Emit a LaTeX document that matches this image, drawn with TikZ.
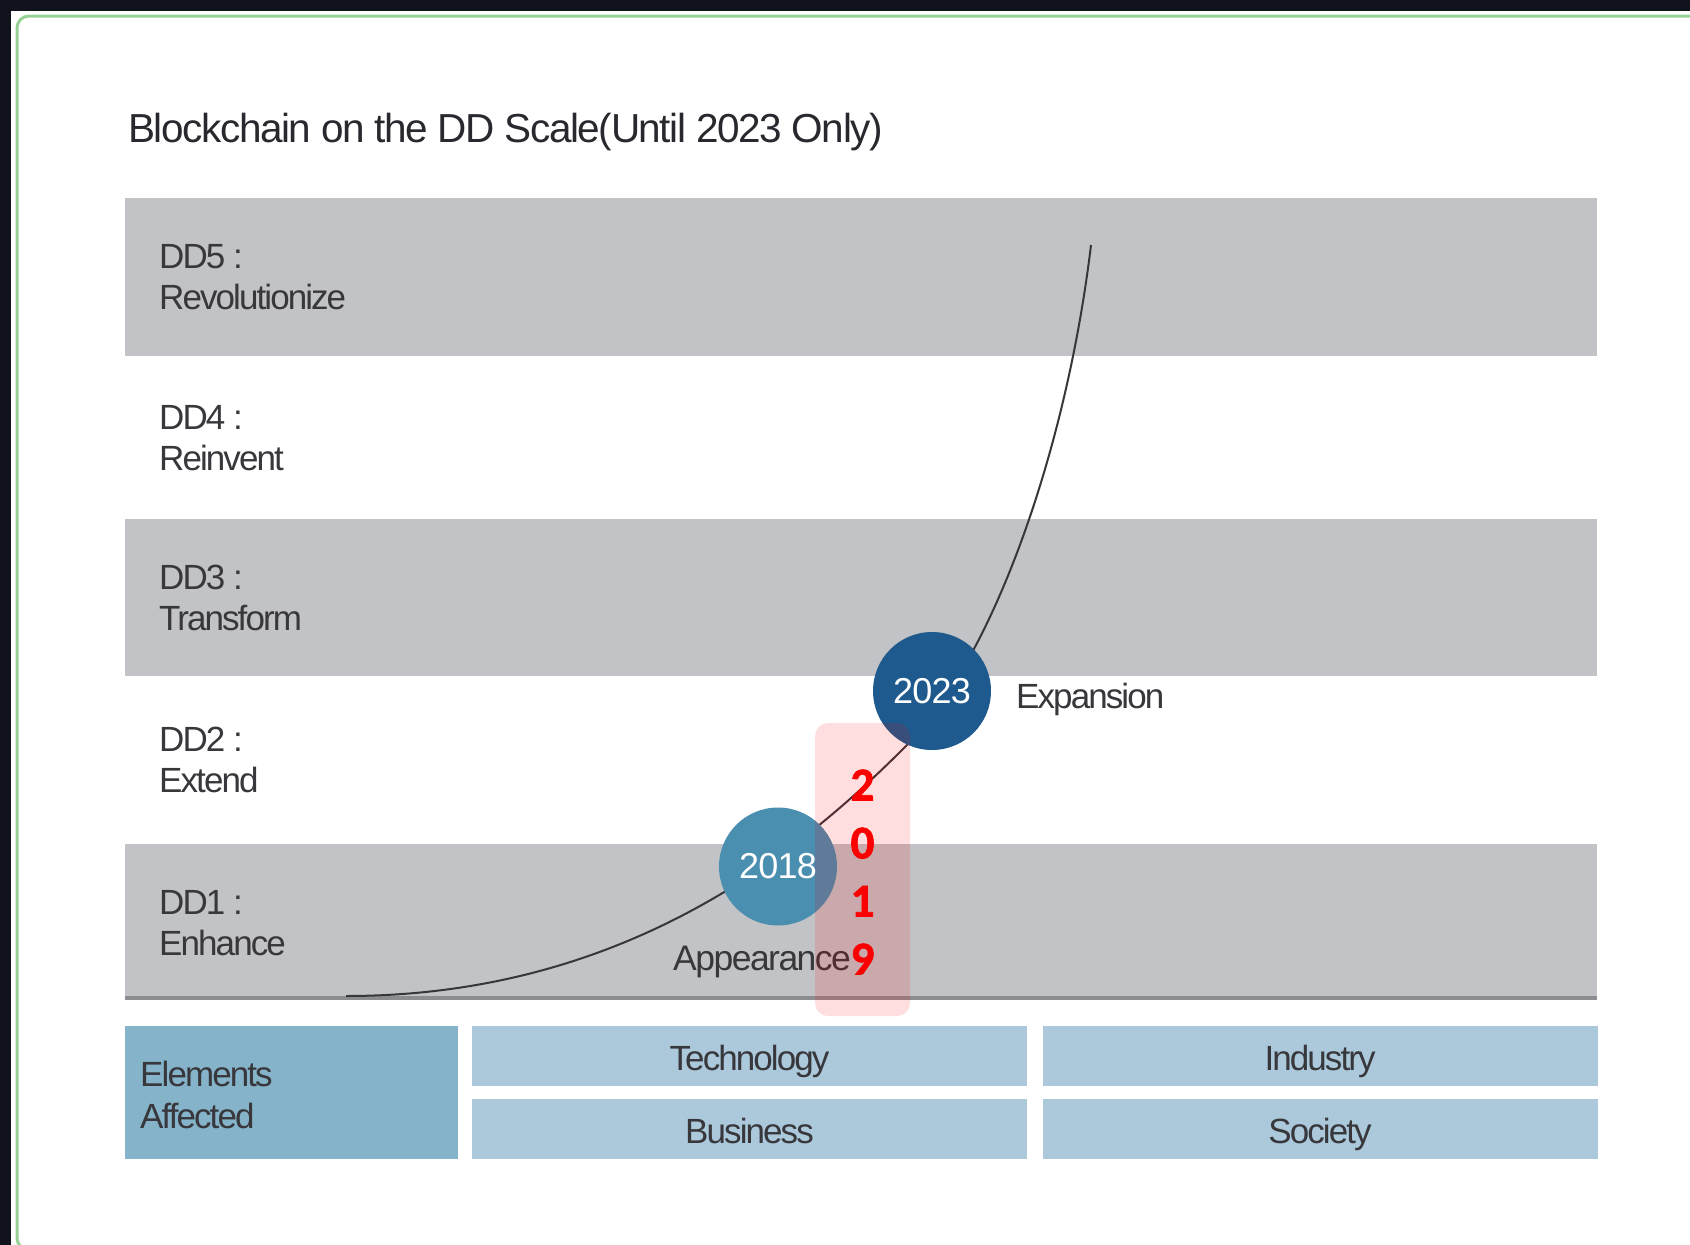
\documentclass[tikz,border=0pt]{standalone}
\usepackage{fontspec}
\setmainfont{Liberation Sans}
\newfontfamily\titlefont[LetterSpace=-3.5]{Liberation Sans}
\newfontfamily\lblfont[LetterSpace=-5.5]{Liberation Sans}
\newfontfamily\apfont[LetterSpace=-4.3]{Liberation Sans}
\newfontfamily\yrfont[LetterSpace=-2]{Liberation Sans}
\newfontfamily\redfont[BoldFeatures={FakeBold=1.6}]{Carlito}
\definecolor{bgdark}{RGB}{16,18,28}
\definecolor{cardgreen}{RGB}{150,210,150}
\definecolor{bandgrey}{RGB}{194,195,198}
\definecolor{bandline}{RGB}{140,141,145}
\definecolor{txtcol}{RGB}{55,55,60}
\definecolor{titlecol}{RGB}{40,40,46}
\definecolor{ctwo}{RGB}{74,142,176}
\definecolor{cthree}{RGB}{30,90,142}
\definecolor{elemdark}{RGB}{133,179,201}
\definecolor{elemlight}{RGB}{171,201,219}
\definecolor{curvecol}{RGB}{55,55,58}
\definecolor{hlred}{RGB}{250,0,0}
\tikzset{
  band/.style={fill=bandgrey},
  lbl/.style={inner sep=0, align=left, text=txtcol, font=\lblfont\fontsize{35}{41}\selectfont},
  yearcirc/.style={circle, minimum size=118, inner sep=0, text=white, font=\yrfont\fontsize{36}{40}\selectfont},
  cell/.style={fill=elemlight, minimum width=555, minimum height=60, inner sep=0, text height=28, text depth=0, text=txtcol, font=\lblfont\fontsize{35}{41}\selectfont},
  trend/.style={draw=curvecol, line width=2},
  highlight/.style={fill=hlred, fill opacity=0.13, rounded corners=13, minimum width=95, minimum height=293, inner sep=0},
  reddigits/.style={text=hlred, align=center, inner sep=0, font=\redfont\bfseries\fontsize{47}{58}\selectfont}
}
\begin{document}
\begin{tikzpicture}[x=1pt, y=-1pt]
\useasboundingbox (0,0) rectangle (1690,1245);
% background and card
\fill[bgdark] (0,0) rectangle (1690,1245);
\fill[white] (11,11) rectangle (1690,1245);
\draw[cardgreen, line width=3, rounded corners=12] (17,16) rectangle (1730,1250);
% title
\node[anchor=base west, inner sep=0, text=titlecol, font=\titlefont\fontsize{40.5}{48}\selectfont] (title) at (128,142) {Blockchain on the DD Scale(Until 2023 Only)};
% bands
\fill[band] (125,198) rectangle (1597,356);
\fill[band] (125,519) rectangle (1597,676);
\fill[band] (125,844) rectangle (1597,1000);
\fill[bandline] (125,995.5) rectangle (1597,1000);
% level labels
\node[lbl, anchor=west] (dd5) at (159,277.5) {DD5 :\\Revolutionize};
\node[lbl, anchor=west] (dd4) at (159,438) {DD4 :\\Reinvent};
\node[lbl, anchor=west] (dd3) at (159,597.5) {DD3 :\\Transform};
\node[lbl, anchor=west] (dd2) at (159,759.5) {DD2 :\\Extend};
\node[lbl, anchor=west] (dd1) at (159,923) {DD1 :\\Enhance};
% trend curve
\coordinate (cstart) at (346,996);
\coordinate (cmid) at (905,747);
\coordinate (cend) at (1091,245);
\draw[trend] (cstart) .. controls (630,996) and (805,847) .. (cmid) .. controls (995,657) and (1067,445) .. (cend);
% year circles
\node[yearcirc, fill=ctwo] (y2018) at (778,866.5) {2018};
\node[yearcirc, fill=cthree] (y2023) at (932,691) {2023};
\node[lbl, anchor=base west] (expansion) at (1016,708) {Expansion};
\node[lbl, anchor=base west, font=\apfont\fontsize{35.5}{41}\selectfont] (appearance) at (673,970) {Appearance};
% elements affected
\node[fill=elemdark, minimum width=333, minimum height=133, inner sep=0] (elements) at (291.5,1092.5) {};
\node[lbl, anchor=west, font=\lblfont\fontsize{35}{42}\selectfont] (elemlabel) at (140,1095) {Elements\\Affected};
\node[cell] (tech) at (749.5,1056) {Technology};
\node[cell] (business) at (749.5,1129) {Business};
\node[cell] (industry) at (1320,1056) {Industry};
\node[cell] (society) at (1320,1129) {Society};
% highlight overlay
\node[highlight] (hl) at (862.5,869.5) {};
\node[reddigits] (digits) at (862.5,872) {2\\0\\1\\9};
\end{tikzpicture}
\end{document}
